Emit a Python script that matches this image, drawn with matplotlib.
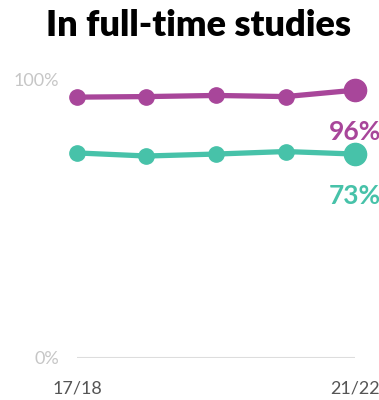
import matplotlib.pyplot as plt

plt.rcParams['font.family'] = ['Lato', 'DejaVu Sans']

years = ['17/18', '18/19', '19/20', '20/21', '21/22']
purple_vals = [93.5, 93.7, 94.1, 93.7, 96]
teal_vals = [73.5, 72.4, 73.1, 74.0, 73.1]
purple_label = '96%'
teal_label = '73%'

purple = '#a8469a'
teal = '#47c2a9'

fig = plt.figure(figsize=(3.79, 4.0), dpi=100)
ax = fig.add_axes([0.203, 0.105, 0.734, 0.6975])

x = list(range(len(years)))
for vals, col, lab in [(purple_vals, purple, purple_label),
                       (teal_vals, teal, teal_label)]:
    ax.plot(x, vals, color=col, lw=3.8, solid_capstyle='round', zorder=3, clip_on=False)
    ax.plot(x[:-1], vals[:-1], 'o', color=col, ms=11, zorder=4, clip_on=False)
    ax.plot(x[-1], vals[-1], 'o', color=col, ms=16, zorder=4, clip_on=False)
    ax.annotate(lab, (x[-1], vals[-1]), xytext=(-19, -30), textcoords='offset points',
                color=col, fontsize=19, fontweight='bold', ha='left', va='center',
                annotation_clip=False)

ax.axhline(0, color='#dddddd', lw=1.5, zorder=1)
ax.set_xlim(0, 4)
ax.set_ylim(0, 100)
ax.set_xticks([0, 4])
ax.set_xticklabels([years[0], years[-1]], color='#555555', fontsize=13)
ax.set_yticks([0, 100])
ax.set_yticklabels(['0%', '100%'], color='#c6c6c6', fontsize=13)
ax.tick_params(length=0, pad=13)
ax.tick_params(axis='x', pad=16)
for s in ax.spines.values():
    s.set_visible(False)

fig.text(0.525, 0.937, 'In full-time studies', ha='center', va='center',
         fontsize=26, fontweight='heavy', color='#000000')

fig.savefig('out.png', dpi=100)
